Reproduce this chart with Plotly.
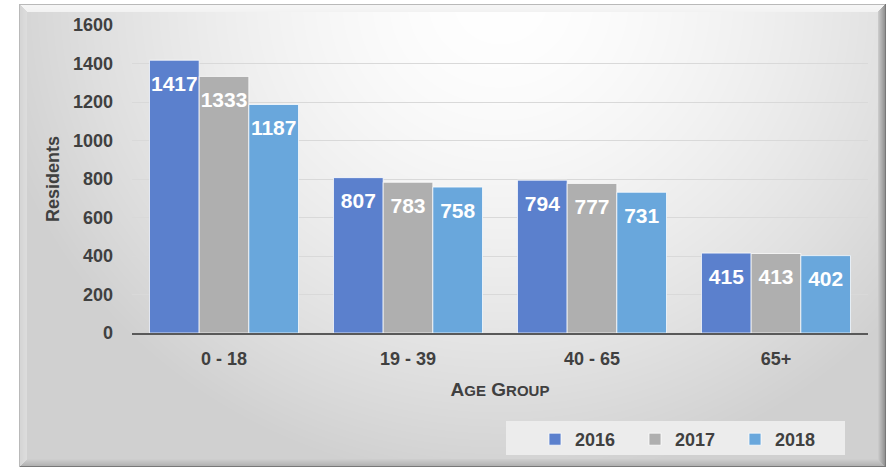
import base64, struct, zlib
import numpy as np
import plotly.graph_objects as go

# ---------------- data ----------------
categories = ["0 - 18", "19 - 39", "40 - 65", "65+"]
years = ["2016", "2017", "2018"]
values_2016 = [1417, 807, 794, 415]
values_2017 = [1333, 783, 777, 413]
values_2018 = [1187, 758, 731, 402]
y_ticks = [0, 200, 400, 600, 800, 1000, 1200, 1400, 1600]

series = [
    ("2016", values_2016, "#5B80CD"),
    ("2017", values_2017, "#AFAFAF"),
    ("2018", values_2018, "#69A7DC"),
]

W, H = 890, 469
ML, MR, MT, MB = 132, 22, 25, 136
PW, PH = W - ML - MR, H - MT - MB

FONT = "Liberation Sans, Arial, sans-serif"
TXT = "#404040"


# ---------------- background (bevelled frame with soft gradient) ----------------
def make_bg():
    yy, xx = np.mgrid[0:H, 0:W].astype(float)
    img = np.full((H, W), 255.0)
    x0, x1, y0, y1 = 19, 885, 4, 466
    bev = 8
    inframe = (xx >= x0) & (xx <= x1) & (yy >= y0) & (yy <= y1)
    d = np.sqrt(((xx - 500) / 470) ** 2 + ((yy - 0) / 440) ** 2)
    grad = 255 - 40 * np.clip(d, 0, 1.1) ** 1.6
    img = np.where(inframe, grad, img)
    dl, dr, dt, db = xx - x0, x1 - xx, yy - y0, y1 - yy
    dmin = np.minimum(np.minimum(dl, dr), np.minimum(dt, db))
    band = inframe & (dmin < bev)
    side = np.argmin(np.stack([dl, dr, dt, db]), axis=0)
    t = dmin / bev
    col_left = 222 - 10 * (1 - t)
    col_right = 140 + 70 * t
    col_top = 246 - 4 * t
    col_bot = 175 + 35 * t
    bandcol = np.choose(side, [col_left, col_right, col_top, col_bot])
    img = np.where(band, bandcol, img)
    edge = inframe & (dmin < 1)
    img = np.where(edge & ((side == 0) | (side == 2)), 185, img)
    img = np.where(edge & ((side == 1) | (side == 3)), 120, img)
    rgb = np.repeat(np.clip(img, 0, 255).astype(np.uint8)[:, :, None], 3, axis=2)
    raw = rgb.reshape(H, W * 3).astype(np.int16)
    sub = raw.copy()
    sub[:, 3:] = (raw[:, 3:] - raw[:, :-3]) % 256
    sub = sub.astype(np.uint8)
    rows = np.hstack([np.ones((H, 1), np.uint8), sub])
    comp = zlib.compress(rows.tobytes(), 9)

    def chunk(tag, data):
        c = struct.pack(">I", len(data)) + tag + data
        return c + struct.pack(">I", zlib.crc32(tag + data) & 0xFFFFFFFF)

    png = b"\x89PNG\r\n\x1a\n" + chunk(b"IHDR", struct.pack(">IIBBBBB", W, H, 8, 2, 0, 0, 0)) \
        + chunk(b"IDAT", comp) + chunk(b"IEND", b"")
    return "data:image/png;base64," + base64.b64encode(png).decode()


fig = go.Figure()

for name, vals, color in series:
    fig.add_bar(
        x=categories, y=vals, name=name, offsetgroup=name,
        marker=dict(color=color, line=dict(color="rgba(255,255,255,0.75)", width=1)),
        hoverinfo="x+y+name",
    )
for name, vals, color in series:
    fig.add_scatter(
        x=categories, y=vals, offsetgroup=name, mode="markers+text",
        marker=dict(size=22, opacity=0), text=[str(v) for v in vals],
        textposition="bottom center", showlegend=False, hoverinfo="skip",
        textfont=dict(family=FONT, size=21, color="white", weight="bold"),
    )

fig.add_layout_image(
    source=make_bg(), xref="paper", yref="paper",
    x=-ML / PW, y=1 + MT / PH, sizex=W / PW, sizey=H / PH,
    xanchor="left", yanchor="top", sizing="stretch", layer="below",
)

# legend panel
fig.add_shape(
    type="rect", xref="paper", yref="paper",
    x0=(506 - ML) / PW, x1=(845 - ML) / PW,
    y0=(H - MB - 455) / PH, y1=(H - MB - 421) / PH,
    fillcolor="#ECECEC", line=dict(width=0), layer="below",
)

fig.update_layout(
    width=W, height=H,
    margin=dict(l=ML, r=MR, t=MT, b=MB, autoexpand=False),
    paper_bgcolor="white", plot_bgcolor="rgba(0,0,0,0)",
    barmode="group", bargap=0.19, bargroupgap=0,
    scattermode="group", scattergap=0.19,
    font=dict(family=FONT, color=TXT),
    showlegend=True,
    legend=dict(
        orientation="h", x=(535 - ML) / PW, xanchor="left",
        y=(H - MB - 421) / PH, yanchor="top",
        bgcolor="rgba(0,0,0,0)", entrywidth=55, entrywidthmode="pixels",
        font=dict(family=FONT, size=18, color=TXT, weight="bold"),
        itemclick=False,
    ),
    xaxis=dict(
        showline=True, linecolor="#595959", linewidth=2, ticks="",
        tickfont=dict(family=FONT, size=18, color=TXT, weight="bold"),
        ticklabelstandoff=8,
        title=dict(
            text="A<span style='font-size:15px'>GE</span> G<span style='font-size:15px'>ROUP</span>",
            font=dict(family=FONT, size=19, color=TXT, weight="bold"), standoff=15,
        ),
    ),
    yaxis=dict(
        range=[0, 1600], tickvals=y_ticks, showgrid=True, gridcolor="#D9D9D9", gridwidth=1,
        zeroline=False, showline=False, ticks="",
        tickfont=dict(family=FONT, size=18, color=TXT, weight="bold"),
        ticklabelstandoff=18,
        title=dict(text="Residents", font=dict(family=FONT, size=18, color=TXT, weight="bold"), standoff=8),
    ),
)

fig.write_html(
    "out.html",
    config={"displayModeBar": False},
    post_script="document.body.style.margin='0';",
)
